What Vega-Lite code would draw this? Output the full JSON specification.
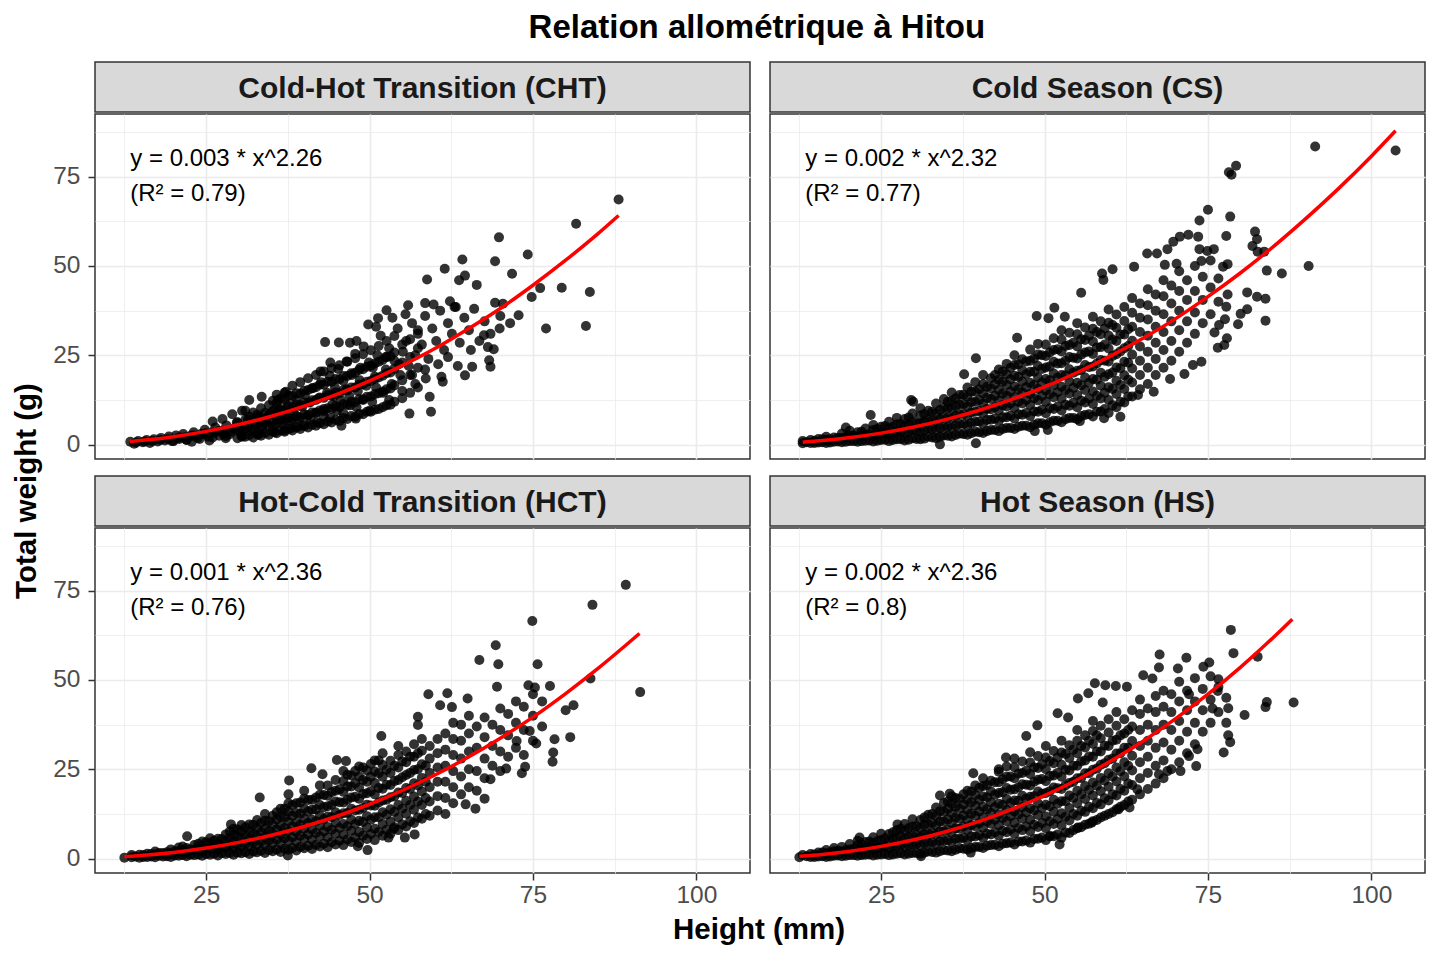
{
  "$schema": "https://vega.github.io/schema/vega-lite/v6.json",
  "background": "white",
  "padding": {"left": 12, "top": 12, "right": 10, "bottom": 5},
  "spacing": 9,
  "config": {
    "font": "Liberation Sans",
    "view": {"stroke": "#333333", "strokeWidth": 1.5},
    "axis": {
      "domain": false,
      "gridColor": "#EBEBEB",
      "labelFont": "Liberation Sans",
      "labelFontSize": 24.5,
      "labelColor": "#4D4D4D",
      "labelOverlap": false,
      "labelFlush": false,
      "tickColor": "#333333",
      "tickWidth": 1.5,
      "tickSize": 7
    },
    "axisX": {"labelPadding": 3},
    "axisY": {"labelPadding": 8}
  },
  "datasets": {
    "cht": [
      {"x":13.4,"y":0.8},{"x":14.0,"y":0.3},{"x":14.6,"y":1.0},{"x":15.3,"y":0.7},{"x":15.9,"y":1.3},{"x":16.4,"y":0.5},{"x":17.0,"y":1.5},{"x":17.6,"y":0.9},
      {"x":18.1,"y":1.9},{"x":18.7,"y":1.2},{"x":19.3,"y":2.3},{"x":19.8,"y":1.0},{"x":20.4,"y":2.6},{"x":20.9,"y":1.6},{"x":21.5,"y":3.0},{"x":22.0,"y":1.4},
      {"x":22.6,"y":2.4},{"x":23.1,"y":3.5},{"x":23.7,"y":1.9},{"x":24.2,"y":3.0},{"x":24.8,"y":4.2},{"x":25.3,"y":2.2},{"x":25.9,"y":3.4},{"x":26.4,"y":4.8},
      {"x":27.0,"y":2.5},{"x":27.5,"y":3.9},{"x":28.1,"y":5.4},{"x":28.6,"y":2.9},{"x":29.2,"y":4.5},{"x":29.7,"y":6.2},{"x":30.3,"y":3.3},{"x":30.8,"y":5.0},
      {"x":31.4,"y":7.0},{"x":31.9,"y":3.9},{"x":32.5,"y":5.7},{"x":33.0,"y":7.8},{"x":33.6,"y":4.4},{"x":34.1,"y":6.4},{"x":34.7,"y":8.6},{"x":35.2,"y":5.0},
      {"x":29.0,"y":8.5},{"x":30.5,"y":9.5},{"x":27.5,"y":7.2},{"x":26.0,"y":6.5},{"x":22.8,"y":0.8},{"x":25.5,"y":1.2},{"x":28.0,"y":1.8},{"x":30.5,"y":2.2},
      {"x":33.0,"y":2.8},{"x":35.5,"y":3.5},{"x":37.0,"y":4.0},
      {"x":20.0,"y":1.0},{"x":22.0,"y":1.3},{"x":24.0,"y":1.6},{"x":26.0,"y":2.0},{"x":28.0,"y":2.4},{"x":21.0,"y":2.0},{"x":23.0,"y":2.6},{"x":25.0,"y":3.2},{"x":27.0,"y":3.8},
      {"x":29.8,"y":1.8},{"x":29.8,"y":4.0},{"x":29.8,"y":6.3},{"x":31.0,"y":2.2},{"x":31.0,"y":4.6},{"x":31.0,"y":7.0},{"x":31.0,"y":9.5},
      {"x":32.2,"y":2.0},{"x":32.2,"y":4.3},{"x":32.2,"y":6.7},{"x":32.2,"y":9.0},{"x":33.4,"y":2.5},{"x":33.4,"y":5.0},{"x":33.4,"y":7.6},{"x":33.4,"y":10.2},
      {"x":34.6,"y":2.8},{"x":34.6,"y":5.5},{"x":34.6,"y":8.2},{"x":34.6,"y":11.0},{"x":35.8,"y":3.2},{"x":35.8,"y":6.0},{"x":35.8,"y":8.9},{"x":35.8,"y":11.8},{"x":35.8,"y":14.0},
      {"x":37.0,"y":3.6},{"x":37.0,"y":6.6},{"x":37.0,"y":9.6},{"x":37.0,"y":12.6},{"x":38.2,"y":4.0},{"x":38.2,"y":7.2},{"x":38.2,"y":10.4},{"x":38.2,"y":13.6},{"x":38.2,"y":16.5},
      {"x":39.4,"y":4.4},{"x":39.4,"y":7.7},{"x":39.4,"y":11.0},{"x":39.4,"y":14.3},{"x":39.4,"y":17.5},{"x":40.6,"y":4.8},{"x":40.6,"y":8.3},{"x":40.6,"y":11.8},{"x":40.6,"y":15.3},{"x":40.6,"y":18.6},
      {"x":41.8,"y":5.3},{"x":41.8,"y":8.9},{"x":41.8,"y":12.5},{"x":41.8,"y":16.1},{"x":41.8,"y":19.5},{"x":43.0,"y":5.7},{"x":43.0,"y":9.4},{"x":43.0,"y":13.1},{"x":43.0,"y":16.8},{"x":43.0,"y":20.5},
      {"x":44.2,"y":6.2},{"x":44.2,"y":10.0},{"x":44.2,"y":13.8},{"x":44.2,"y":17.6},{"x":44.2,"y":21.4},{"x":45.4,"y":6.6},{"x":45.4,"y":10.5},{"x":45.4,"y":14.4},{"x":45.4,"y":18.3},{"x":45.4,"y":22.2},
      {"x":46.6,"y":7.2},{"x":46.6,"y":11.2},{"x":46.6,"y":15.2},{"x":46.6,"y":19.2},{"x":46.6,"y":23.2},{"x":47.8,"y":7.8},{"x":47.8,"y":11.9},{"x":47.8,"y":16.0},{"x":47.8,"y":20.1},{"x":47.8,"y":24.2},
      {"x":49.0,"y":8.5},{"x":49.0,"y":12.7},{"x":49.0,"y":16.9},{"x":49.0,"y":21.1},{"x":49.0,"y":25.3},{"x":50.2,"y":9.2},{"x":50.2,"y":13.5},{"x":50.2,"y":17.8},{"x":50.2,"y":22.1},{"x":50.2,"y":26.4},
      {"x":51.4,"y":10.0},{"x":51.4,"y":14.4},{"x":51.4,"y":18.8},{"x":51.4,"y":23.2},{"x":51.4,"y":27.6},{"x":52.6,"y":11.0},{"x":52.6,"y":15.5},{"x":52.6,"y":20.0},{"x":52.6,"y":24.5},{"x":52.6,"y":29.0},
      {"x":53.8,"y":12.0},{"x":53.8,"y":16.6},{"x":53.8,"y":21.2},{"x":53.8,"y":25.8},{"x":53.8,"y":30.4},{"x":55.0,"y":13.0},{"x":55.0,"y":18.0},{"x":55.0,"y":23.0},{"x":55.0,"y":28.0},
      {"x":56.2,"y":14.5},{"x":56.2,"y":19.5},{"x":56.2,"y":24.5},{"x":56.2,"y":29.5},{"x":57.4,"y":16.0},{"x":57.4,"y":21.5},{"x":57.4,"y":27.0},{"x":57.4,"y":32.0},
      {"x":35.8,"y":7.2},{"x":36.2,"y":9.8},{"x":36.6,"y":5.9},{"x":37.1,"y":8.3},{"x":37.5,"y":11.2},{"x":37.9,"y":6.6},{"x":38.4,"y":9.4},{"x":38.8,"y":12.5},
      {"x":39.2,"y":7.3},{"x":39.7,"y":10.6},{"x":40.1,"y":14.0},{"x":40.5,"y":8.1},{"x":40.9,"y":11.8},{"x":41.3,"y":15.8},{"x":41.8,"y":9.0},{"x":42.2,"y":13.0},
      {"x":42.6,"y":17.5},{"x":43.0,"y":10.0},{"x":43.5,"y":14.5},{"x":43.9,"y":19.3},{"x":44.3,"y":11.2},{"x":44.7,"y":16.0},{"x":45.2,"y":21.2},{"x":45.6,"y":12.4},
      {"x":46.0,"y":17.8},{"x":46.5,"y":23.3},{"x":46.9,"y":13.6},{"x":47.3,"y":19.5},{"x":47.8,"y":25.4},{"x":48.2,"y":15.0},{"x":48.6,"y":21.5},{"x":49.1,"y":27.5},
      {"x":49.5,"y":16.5},{"x":49.9,"y":23.0},{"x":50.4,"y":12.0},{"x":50.8,"y":19.0},{"x":51.2,"y":25.0},{"x":51.7,"y":30.5},{"x":52.1,"y":14.5},{"x":52.5,"y":21.0},
      {"x":53.0,"y":27.0},{"x":53.4,"y":17.0},{"x":53.8,"y":23.5},{"x":54.3,"y":32.5},{"x":54.7,"y":19.5},{"x":55.1,"y":26.0},{"x":55.6,"y":29.0},{"x":56.0,"y":22.0},
      {"x":56.5,"y":34.0},{"x":57.0,"y":25.0},{"x":57.4,"y":31.0},{"x":58.0,"y":28.0},{"x":58.5,"y":36.0},{"x":59.0,"y":24.0},{"x":59.6,"y":32.5},{"x":60.2,"y":29.0},
      {"x":60.8,"y":37.5},{"x":61.4,"y":26.5},{"x":62.0,"y":34.0},{"x":62.6,"y":31.0},{"x":63.2,"y":38.5},{"x":63.8,"y":28.5},{"x":64.5,"y":35.5},{"x":65.2,"y":32.0},
      {"x":66.0,"y":38.0},{"x":66.8,"y":29.0},{"x":67.6,"y":34.5},{"x":68.5,"y":31.0},{"x":70.0,"y":36.0},{"x":71.5,"y":34.0},
      {"x":38.0,"y":4.6},{"x":40.0,"y":5.5},{"x":42.0,"y":6.3},{"x":44.0,"y":7.5},{"x":46.0,"y":8.8},{"x":48.0,"y":10.5},{"x":50.0,"y":9.5},{"x":45.0,"y":9.5},
      {"x":47.0,"y":11.0},{"x":49.0,"y":12.5},{"x":51.0,"y":16.0},{"x":53.0,"y":12.5},{"x":55.0,"y":15.0},{"x":57.0,"y":17.0},{"x":41.0,"y":7.0},{"x":43.0,"y":8.0},
      {"x":39.0,"y":5.0},{"x":44.5,"y":13.5},{"x":46.5,"y":15.5},{"x":48.5,"y":18.0},{"x":50.5,"y":21.5},{"x":52.5,"y":24.5},{"x":54.5,"y":22.5},{"x":56.5,"y":19.5},
      {"x":58.5,"y":21.0},{"x":60.5,"y":22.5},{"x":62.0,"y":24.5},{"x":61.0,"y":19.0},{"x":63.5,"y":22.0},{"x":65.5,"y":26.5},{"x":42.5,"y":20.5},{"x":44.0,"y":23.0},
      {"x":47.0,"y":28.5},{"x":48.0,"y":29.0},{"x":51.0,"y":33.0},{"x":53.5,"y":35.5},{"x":55.5,"y":36.5},{"x":37.0,"y":14.5},{"x":36.0,"y":12.5},
      {"x":88.1,"y":68.6},{"x":81.6,"y":61.8},{"x":69.8,"y":58.0},{"x":64.2,"y":51.8},{"x":69.2,"y":51.3},{"x":74.2,"y":53.2},{"x":61.5,"y":49.2},{"x":63.7,"y":46.0},
      {"x":64.6,"y":47.3},{"x":66.4,"y":44.7},{"x":71.8,"y":47.8},{"x":58.8,"y":46.2},{"x":76.1,"y":43.8},{"x":79.4,"y":43.9},{"x":83.7,"y":42.7},{"x":74.8,"y":41.3},
      {"x":72.8,"y":36.2},{"x":77.0,"y":32.5},{"x":83.1,"y":33.2},{"x":69.2,"y":39.7},{"x":70.4,"y":39.4},{"x":69.9,"y":32.5},{"x":55.9,"y":39.0},{"x":58.5,"y":39.6},
      {"x":59.8,"y":39.2},{"x":62.3,"y":40.1},{"x":63.0,"y":38.5},{"x":52.6,"y":37.6},{"x":51.3,"y":35.4},{"x":49.8,"y":33.6},{"x":43.2,"y":28.7},{"x":45.3,"y":28.6},
      {"x":67.5,"y":30.6},{"x":68.1,"y":27.3},{"x":69.0,"y":26.7},{"x":68.3,"y":23.6},{"x":68.5,"y":21.8},{"x":64.6,"y":19.4},{"x":65.7,"y":21.8},{"x":61.2,"y":17.6},
      {"x":59.2,"y":13.4},{"x":59.4,"y":9.2},{"x":56.1,"y":8.7},{"x":58.6,"y":18.5},{"x":47.9,"y":7.3},{"x":45.7,"y":5.3},{"x":31.6,"y":12.5},{"x":33.5,"y":13.4},
      {"x":37.2,"y":14.8},{"x":35.7,"y":10.1},
      {"x":30.4,"y":2.5},{"x":30.4,"y":4.9},{"x":31.6,"y":2.7},{"x":31.6,"y":5.3},{"x":31.6,"y":7.9},{"x":32.8,"y":3.0},{"x":32.8,"y":5.7},{"x":32.8,"y":8.4},
      {"x":34.0,"y":3.3},{"x":34.0,"y":6.1},{"x":34.0,"y":8.9},{"x":35.2,"y":3.6},{"x":35.2,"y":6.5},{"x":35.2,"y":9.4},{"x":35.2,"y":12.3},
      {"x":36.4,"y":4.0},{"x":36.4,"y":7.0},{"x":36.4,"y":10.0},{"x":36.4,"y":13.0},{"x":37.6,"y":4.4},{"x":37.6,"y":7.5},{"x":37.6,"y":10.6},{"x":37.6,"y":13.7},
      {"x":38.8,"y":4.8},{"x":38.8,"y":8.0},{"x":38.8,"y":11.2},{"x":38.8,"y":14.4},{"x":40.0,"y":5.2},{"x":40.0,"y":8.5},{"x":40.0,"y":11.8},{"x":40.0,"y":15.1},
      {"x":41.2,"y":5.6},{"x":41.2,"y":9.0},{"x":41.2,"y":12.4},{"x":41.2,"y":15.8},{"x":42.4,"y":6.0},{"x":42.4,"y":9.6},{"x":42.4,"y":13.2},{"x":42.4,"y":16.8},
      {"x":43.6,"y":6.5},{"x":43.6,"y":10.2},{"x":43.6,"y":13.9},{"x":43.6,"y":17.6},{"x":44.8,"y":7.0},{"x":44.8,"y":10.8},{"x":44.8,"y":14.6},{"x":44.8,"y":18.4},
      {"x":46.0,"y":7.5},{"x":46.0,"y":11.4},{"x":46.0,"y":15.3},{"x":46.0,"y":19.2},{"x":47.2,"y":8.0},{"x":47.2,"y":12.0},{"x":47.2,"y":16.0},{"x":47.2,"y":20.0},
      {"x":48.4,"y":8.6},{"x":48.4,"y":12.7},{"x":48.4,"y":16.8},{"x":48.4,"y":20.9},{"x":49.6,"y":9.2},{"x":49.6,"y":13.4},{"x":49.6,"y":17.6},{"x":49.6,"y":21.8},
      {"x":50.8,"y":9.8},{"x":50.8,"y":14.1},{"x":50.8,"y":18.4},{"x":50.8,"y":22.7},{"x":52.0,"y":10.5},{"x":52.0,"y":14.9},{"x":52.0,"y":19.3},{"x":52.0,"y":23.7},
      {"x":53.2,"y":11.2},{"x":53.2,"y":15.7},{"x":53.2,"y":20.2},{"x":53.2,"y":24.7},
      {"x":14.3,"y":0.6},{"x":15.6,"y":0.9},{"x":16.8,"y":1.0},{"x":18.0,"y":1.3},{"x":19.2,"y":1.5},{"x":20.6,"y":1.8},{"x":21.8,"y":2.1},{"x":23.4,"y":2.5},
      {"x":24.6,"y":2.9},{"x":26.2,"y":3.3},{"x":27.6,"y":3.0},{"x":28.8,"y":3.6}
    ],
    "cs": [
      {"x":13.0,"y":0.4},{"x":13.0,"y":1.0},{"x":14.2,"y":0.5},{"x":14.2,"y":1.3},{"x":15.4,"y":0.6},{"x":15.4,"y":1.6},{"x":16.6,"y":0.5},{"x":16.6,"y":1.4},{"x":16.6,"y":2.2},
      {"x":17.8,"y":0.8},{"x":17.8,"y":2.0},{"x":19.0,"y":0.7},{"x":19.0,"y":1.9},{"x":19.0,"y":3.1},{"x":20.2,"y":1.0},{"x":20.2,"y":2.6},{"x":20.2,"y":3.9},
      {"x":21.4,"y":0.8},{"x":21.4,"y":2.2},{"x":21.4,"y":3.5},{"x":22.6,"y":1.1},{"x":22.6,"y":2.8},{"x":22.6,"y":4.5},{"x":23.8,"y":0.9},{"x":23.8,"y":2.5},{"x":23.8,"y":4.1},{"x":23.8,"y":5.5},
      {"x":25.0,"y":1.3},{"x":25.0,"y":3.2},{"x":25.0,"y":5.0},{"x":26.2,"y":1.0},{"x":26.2,"y":2.8},{"x":26.2,"y":4.6},{"x":26.2,"y":6.4},
      {"x":27.4,"y":1.5},{"x":27.4,"y":3.6},{"x":27.4,"y":5.7},{"x":27.4,"y":7.5},{"x":28.6,"y":1.2},{"x":28.6,"y":3.2},{"x":28.6,"y":5.2},{"x":28.6,"y":7.2},
      {"x":29.8,"y":1.8},{"x":29.8,"y":4.1},{"x":29.8,"y":6.4},{"x":29.8,"y":8.7},
      {"x":31.0,"y":1.5},{"x":31.0,"y":3.6},{"x":31.0,"y":5.9},{"x":31.0,"y":8.1},{"x":31.0,"y":10.2},
      {"x":32.2,"y":2.2},{"x":32.2,"y":4.6},{"x":32.2,"y":7.1},{"x":32.2,"y":9.5},
      {"x":33.4,"y":1.8},{"x":33.4,"y":4.1},{"x":33.4,"y":6.5},{"x":33.4,"y":8.9},{"x":33.4,"y":11.5},
      {"x":34.6,"y":2.6},{"x":34.6,"y":5.2},{"x":34.6,"y":7.8},{"x":34.6,"y":10.4},{"x":34.6,"y":12.8},
      {"x":35.8,"y":2.3},{"x":35.8,"y":4.7},{"x":35.8,"y":7.3},{"x":35.8,"y":9.9},{"x":35.8,"y":12.3},{"x":35.8,"y":14.6},
      {"x":37.0,"y":3.1},{"x":37.0,"y":5.8},{"x":37.0,"y":8.5},{"x":37.0,"y":11.2},{"x":37.0,"y":13.9},
      {"x":38.2,"y":2.8},{"x":38.2,"y":5.3},{"x":38.2,"y":8.0},{"x":38.2,"y":10.7},{"x":38.2,"y":13.4},{"x":38.2,"y":16.0},
      {"x":39.4,"y":3.6},{"x":39.4,"y":6.4},{"x":39.4,"y":9.2},{"x":39.4,"y":12.0},{"x":39.4,"y":14.8},{"x":39.4,"y":17.5},
      {"x":40.6,"y":3.3},{"x":40.6,"y":5.9},{"x":40.6,"y":8.7},{"x":40.6,"y":11.5},{"x":40.6,"y":14.3},{"x":40.6,"y":17.0},{"x":40.6,"y":19.5},
      {"x":41.8,"y":4.1},{"x":41.8,"y":7.0},{"x":41.8,"y":9.9},{"x":41.8,"y":12.8},{"x":41.8,"y":15.7},{"x":41.8,"y":18.6},
      {"x":43.0,"y":3.8},{"x":43.0,"y":6.6},{"x":43.0,"y":9.5},{"x":43.0,"y":12.4},{"x":43.0,"y":15.3},{"x":43.0,"y":18.2},{"x":43.0,"y":21.0},
      {"x":44.2,"y":4.7},{"x":44.2,"y":7.7},{"x":44.2,"y":10.7},{"x":44.2,"y":13.7},{"x":44.2,"y":16.7},{"x":44.2,"y":19.7},{"x":44.2,"y":22.6},
      {"x":45.4,"y":4.4},{"x":45.4,"y":7.3},{"x":45.4,"y":10.3},{"x":45.4,"y":13.3},{"x":45.4,"y":16.3},{"x":45.4,"y":19.3},{"x":45.4,"y":22.3},{"x":45.4,"y":25.0},
      {"x":46.6,"y":5.3},{"x":46.6,"y":8.4},{"x":46.6,"y":11.5},{"x":46.6,"y":14.6},{"x":46.6,"y":17.7},{"x":46.6,"y":20.8},{"x":46.6,"y":23.9},
      {"x":47.8,"y":4.9},{"x":47.8,"y":8.0},{"x":47.8,"y":11.1},{"x":47.8,"y":14.2},{"x":47.8,"y":17.3},{"x":47.8,"y":20.4},{"x":47.8,"y":23.5},{"x":47.8,"y":26.6},
      {"x":49.0,"y":6.0},{"x":49.0,"y":9.2},{"x":49.0,"y":12.4},{"x":49.0,"y":15.6},{"x":49.0,"y":18.8},{"x":49.0,"y":22.0},{"x":49.0,"y":25.2},{"x":49.0,"y":28.2},
      {"x":50.2,"y":5.6},{"x":50.2,"y":8.8},{"x":50.2,"y":12.0},{"x":50.2,"y":15.2},{"x":50.2,"y":18.4},{"x":50.2,"y":21.6},{"x":50.2,"y":24.8},{"x":50.2,"y":28.0},
      {"x":51.4,"y":6.7},{"x":51.4,"y":10.0},{"x":51.4,"y":13.3},{"x":51.4,"y":16.6},{"x":51.4,"y":19.9},{"x":51.4,"y":23.2},{"x":51.4,"y":26.5},{"x":51.4,"y":29.8},
      {"x":52.6,"y":6.3},{"x":52.6,"y":9.6},{"x":52.6,"y":12.9},{"x":52.6,"y":16.2},{"x":52.6,"y":19.5},{"x":52.6,"y":22.8},{"x":52.6,"y":26.1},{"x":52.6,"y":29.4},{"x":52.6,"y":32.0},
      {"x":53.8,"y":7.5},{"x":53.8,"y":10.9},{"x":53.8,"y":14.3},{"x":53.8,"y":17.7},{"x":53.8,"y":21.1},{"x":53.8,"y":24.5},{"x":53.8,"y":27.9},{"x":53.8,"y":31.3},
      {"x":55.0,"y":7.1},{"x":55.0,"y":10.5},{"x":55.0,"y":13.9},{"x":55.0,"y":17.3},{"x":55.0,"y":20.7},{"x":55.0,"y":24.1},{"x":55.0,"y":27.5},{"x":55.0,"y":30.9},{"x":55.0,"y":34.0},
      {"x":56.2,"y":8.3},{"x":56.2,"y":11.8},{"x":56.2,"y":15.3},{"x":56.2,"y":18.8},{"x":56.2,"y":22.3},{"x":56.2,"y":25.8},{"x":56.2,"y":29.3},{"x":56.2,"y":32.8},
      {"x":57.4,"y":7.9},{"x":57.4,"y":11.4},{"x":57.4,"y":14.9},{"x":57.4,"y":18.4},{"x":57.4,"y":21.9},{"x":57.4,"y":25.4},{"x":57.4,"y":28.9},{"x":57.4,"y":32.4},{"x":57.4,"y":35.8},
      {"x":58.6,"y":9.3},{"x":58.6,"y":12.9},{"x":58.6,"y":16.5},{"x":58.6,"y":20.1},{"x":58.6,"y":23.7},{"x":58.6,"y":27.3},{"x":58.6,"y":30.9},{"x":58.6,"y":34.5},
      {"x":59.8,"y":8.9},{"x":59.8,"y":12.5},{"x":59.8,"y":16.1},{"x":59.8,"y":19.7},{"x":59.8,"y":23.3},{"x":59.8,"y":26.9},{"x":59.8,"y":30.5},{"x":59.8,"y":34.1},{"x":59.8,"y":37.8},
      {"x":61.0,"y":10.5},{"x":61.0,"y":14.2},{"x":61.0,"y":17.9},{"x":61.0,"y":21.6},{"x":61.0,"y":25.3},{"x":61.0,"y":29.0},{"x":61.0,"y":32.7},{"x":61.0,"y":36.4},
      {"x":62.2,"y":11.8},{"x":62.2,"y":15.6},{"x":62.2,"y":19.4},{"x":62.2,"y":23.2},{"x":62.2,"y":27.0},{"x":62.2,"y":30.8},{"x":62.2,"y":34.6},{"x":62.2,"y":38.5},
      {"x":63.4,"y":13.5},{"x":63.4,"y":17.4},{"x":63.4,"y":21.3},{"x":63.4,"y":25.2},{"x":63.4,"y":29.1},{"x":63.4,"y":33.0},{"x":63.4,"y":36.9},{"x":63.4,"y":41.0},
      {"x":64.6,"y":15.5},{"x":64.6,"y":19.5},{"x":64.6,"y":23.5},{"x":64.6,"y":27.5},{"x":64.6,"y":31.5},{"x":64.6,"y":35.5},{"x":64.6,"y":39.5},
      {"x":65.8,"y":17.0},{"x":65.8,"y":21.5},{"x":65.8,"y":26.0},{"x":65.8,"y":30.5},{"x":65.8,"y":35.0},{"x":65.8,"y":39.0},{"x":65.8,"y":43.5},
      {"x":67.0,"y":19.5},{"x":67.0,"y":24.0},{"x":67.0,"y":28.5},{"x":67.0,"y":33.0},{"x":67.0,"y":37.5},{"x":67.0,"y":42.0},
      {"x":68.2,"y":21.5},{"x":68.2,"y":26.5},{"x":68.2,"y":31.5},{"x":68.2,"y":36.5},{"x":68.2,"y":41.5},{"x":68.2,"y":46.0},
      {"x":69.4,"y":23.5},{"x":69.4,"y":29.0},{"x":69.4,"y":34.5},{"x":69.4,"y":39.5},{"x":69.4,"y":44.5},
      {"x":70.6,"y":26.0},{"x":70.6,"y":32.0},{"x":70.6,"y":37.5},{"x":70.6,"y":43.0},{"x":70.6,"y":48.5},
      {"x":71.8,"y":28.5},{"x":71.8,"y":34.5},{"x":71.8,"y":40.5},{"x":71.8,"y":46.0},
      {"x":73.0,"y":31.0},{"x":73.0,"y":37.0},{"x":73.0,"y":43.0},{"x":73.0,"y":50.0},
      {"x":74.2,"y":34.0},{"x":74.2,"y":40.5},{"x":74.2,"y":47.0},{"x":75.4,"y":36.5},{"x":75.4,"y":44.0},{"x":75.4,"y":51.5},
      {"x":76.6,"y":40.0},{"x":76.6,"y":46.5},{"x":78.0,"y":42.0},{"x":78.0,"y":50.5},
      {"x":91.4,"y":83.4},{"x":103.7,"y":82.3},{"x":79.3,"y":78.0},{"x":78.2,"y":76.2},{"x":78.6,"y":75.5},{"x":75.0,"y":65.7},{"x":78.4,"y":63.8},{"x":73.7,"y":62.7},
      {"x":82.2,"y":59.6},{"x":82.5,"y":57.5},{"x":81.8,"y":55.6},{"x":82.6,"y":54.0},{"x":83.6,"y":54.0},{"x":77.8,"y":58.4},{"x":72.0,"y":58.7},{"x":70.7,"y":58.2},
      {"x":69.7,"y":56.8},{"x":73.5,"y":58.2},{"x":75.9,"y":54.7},{"x":74.9,"y":54.2},{"x":73.7,"y":54.7},{"x":68.8,"y":54.7},{"x":67.2,"y":53.5},{"x":65.7,"y":53.5},
      {"x":74.0,"y":51.4},{"x":90.4,"y":50.0},{"x":84.0,"y":48.7},{"x":86.3,"y":47.9},{"x":77.3,"y":49.8},{"x":63.7,"y":49.8},{"x":60.4,"y":49.1},{"x":58.8,"y":47.9},
      {"x":59.0,"y":46.1},{"x":68.4,"y":50.3},{"x":70.2,"y":50.6},{"x":81.0,"y":42.6},{"x":82.5,"y":41.4},{"x":83.8,"y":40.8},{"x":81.0,"y":37.9},{"x":80.0,"y":36.6},
      {"x":83.8,"y":34.7},{"x":79.6,"y":33.7},{"x":77.8,"y":38.6},{"x":77.6,"y":35.1},{"x":76.7,"y":33.5},{"x":76.0,"y":31.4},{"x":77.9,"y":29.8},{"x":77.5,"y":27.9},
      {"x":76.5,"y":27.1},{"x":74.0,"y":23.2},{"x":72.7,"y":22.3},{"x":71.4,"y":19.8},{"x":69.2,"y":18.4},{"x":66.7,"y":14.8},{"x":64.3,"y":13.9},{"x":61.6,"y":7.8},
      {"x":59.1,"y":7.4},{"x":55.4,"y":6.6},{"x":55.6,"y":42.5},{"x":51.5,"y":38.3},{"x":50.6,"y":35.4},{"x":48.8,"y":36.0},{"x":53.1,"y":35.8},{"x":45.8,"y":29.9},
      {"x":39.5,"y":24.2},{"x":37.7,"y":19.7},{"x":34.0,"y":0.1},{"x":39.5,"y":0.4},{"x":48.5,"y":3.8},{"x":50.5,"y":4.1},{"x":29.9,"y":12.0},{"x":29.6,"y":12.5},
      {"x":23.4,"y":8.3},{"x":19.6,"y":4.8},
      {"x":13.6,"y":0.7},{"x":14.8,"y":0.5},{"x":14.8,"y":1.1},{"x":16.0,"y":0.7},{"x":16.0,"y":1.5},{"x":17.2,"y":0.6},{"x":17.2,"y":1.5},{"x":18.4,"y":0.9},{"x":18.4,"y":1.9},
      {"x":19.6,"y":0.8},{"x":19.6,"y":2.2},{"x":20.8,"y":1.0},{"x":20.8,"y":2.5},{"x":22.0,"y":1.0},{"x":22.0,"y":2.4},{"x":22.0,"y":3.6},{"x":23.2,"y":1.2},{"x":23.2,"y":2.9},
      {"x":24.4,"y":1.1},{"x":24.4,"y":2.7},{"x":24.4,"y":4.4},{"x":25.6,"y":1.4},{"x":25.6,"y":3.3},{"x":25.6,"y":5.2},{"x":26.8,"y":1.3},{"x":26.8,"y":3.2},{"x":26.8,"y":5.0},
      {"x":28.0,"y":1.5},{"x":28.0,"y":3.6},{"x":28.0,"y":5.8},{"x":29.2,"y":1.4},{"x":29.2,"y":3.5},{"x":29.2,"y":5.6},{"x":29.2,"y":7.6},
      {"x":30.4,"y":1.6},{"x":30.4,"y":3.8},{"x":30.4,"y":6.0},{"x":31.6,"y":1.7},{"x":31.6,"y":4.0},{"x":31.6,"y":6.4},{"x":31.6,"y":8.6},
      {"x":32.8,"y":2.0},{"x":32.8,"y":4.4},{"x":32.8,"y":6.8},{"x":32.8,"y":9.2},{"x":34.0,"y":2.2},{"x":34.0,"y":4.7},{"x":34.0,"y":7.2},{"x":34.0,"y":9.7},
      {"x":35.2,"y":2.5},{"x":35.2,"y":5.0},{"x":35.2,"y":7.6},{"x":35.2,"y":10.2},{"x":35.2,"y":12.0},{"x":36.4,"y":2.7},{"x":36.4,"y":5.4},{"x":36.4,"y":8.1},{"x":36.4,"y":10.8},{"x":36.4,"y":13.0},
      {"x":37.6,"y":3.0},{"x":37.6,"y":5.8},{"x":37.6,"y":8.6},{"x":37.6,"y":11.4},{"x":37.6,"y":14.0},{"x":38.8,"y":3.2},{"x":38.8,"y":6.1},{"x":38.8,"y":9.0},{"x":38.8,"y":11.9},{"x":38.8,"y":14.8},
      {"x":40.0,"y":3.5},{"x":40.0,"y":6.5},{"x":40.0,"y":9.5},{"x":40.0,"y":12.5},{"x":40.0,"y":15.5},{"x":41.2,"y":3.8},{"x":41.2,"y":6.9},{"x":41.2,"y":10.0},{"x":41.2,"y":13.1},{"x":41.2,"y":16.2},
      {"x":42.4,"y":4.1},{"x":42.4,"y":7.3},{"x":42.4,"y":10.5},{"x":42.4,"y":13.7},{"x":42.4,"y":16.9},{"x":42.4,"y":19.5},
      {"x":43.6,"y":4.4},{"x":43.6,"y":7.7},{"x":43.6,"y":11.0},{"x":43.6,"y":14.3},{"x":43.6,"y":17.6},{"x":43.6,"y":20.5},
      {"x":44.8,"y":4.7},{"x":44.8,"y":8.1},{"x":44.8,"y":11.5},{"x":44.8,"y":14.9},{"x":44.8,"y":18.3},{"x":44.8,"y":21.5},
      {"x":46.0,"y":5.0},{"x":46.0,"y":8.5},{"x":46.0,"y":12.0},{"x":46.0,"y":15.5},{"x":46.0,"y":19.0},{"x":46.0,"y":22.5},
      {"x":47.2,"y":5.3},{"x":47.2,"y":8.9},{"x":47.2,"y":12.5},{"x":47.2,"y":16.1},{"x":47.2,"y":19.7},{"x":47.2,"y":23.3},
      {"x":48.4,"y":5.6},{"x":48.4,"y":9.3},{"x":48.4,"y":13.0},{"x":48.4,"y":16.7},{"x":48.4,"y":20.4},{"x":48.4,"y":24.1},
      {"x":49.6,"y":6.0},{"x":49.6,"y":9.8},{"x":49.6,"y":13.6},{"x":49.6,"y":17.4},{"x":49.6,"y":21.2},{"x":49.6,"y":25.0},
      {"x":50.8,"y":6.3},{"x":50.8,"y":10.2},{"x":50.8,"y":14.1},{"x":50.8,"y":18.0},{"x":50.8,"y":21.9},{"x":50.8,"y":25.8},
      {"x":52.0,"y":6.7},{"x":52.0,"y":10.7},{"x":52.0,"y":14.7},{"x":52.0,"y":18.7},{"x":52.0,"y":22.7},{"x":52.0,"y":26.7},
      {"x":53.2,"y":7.1},{"x":53.2,"y":11.2},{"x":53.2,"y":15.3},{"x":53.2,"y":19.4},{"x":53.2,"y":23.5},{"x":53.2,"y":27.6},
      {"x":54.4,"y":7.5},{"x":54.4,"y":11.7},{"x":54.4,"y":15.9},{"x":54.4,"y":20.1},{"x":54.4,"y":24.3},{"x":54.4,"y":28.5},
      {"x":55.6,"y":8.0},{"x":55.6,"y":12.3},{"x":55.6,"y":16.6},{"x":55.6,"y":20.9},{"x":55.6,"y":25.2},{"x":55.6,"y":29.5},
      {"x":56.8,"y":8.5},{"x":56.8,"y":12.9},{"x":56.8,"y":17.3},{"x":56.8,"y":21.7},{"x":56.8,"y":26.1},{"x":56.8,"y":30.5},
      {"x":58.0,"y":9.2},{"x":58.0,"y":13.7},{"x":58.0,"y":18.2},{"x":58.0,"y":22.7},{"x":58.0,"y":27.2},{"x":58.0,"y":31.5},
      {"x":59.2,"y":10.0},{"x":59.2,"y":14.5},{"x":59.2,"y":19.0},{"x":59.2,"y":23.5},{"x":59.2,"y":28.0},{"x":59.2,"y":32.5},
      {"x":60.4,"y":11.0},{"x":60.4,"y":15.6},{"x":60.4,"y":20.2},{"x":60.4,"y":24.8},{"x":60.4,"y":29.4},{"x":60.4,"y":33.5},
      {"x":61.6,"y":12.0},{"x":61.6,"y":16.7},{"x":61.6,"y":21.4},{"x":61.6,"y":26.1},{"x":61.6,"y":30.8},
      {"x":62.8,"y":13.5},{"x":62.8,"y":18.2},{"x":62.8,"y":22.9},{"x":62.8,"y":27.6},{"x":62.8,"y":32.3}
    ],
    "hct": [
      {"x":12.5,"y":0.3},{"x":13.6,"y":0.4},{"x":13.6,"y":1.0},{"x":14.8,"y":0.3},{"x":14.8,"y":1.1},{"x":16.0,"y":0.5},{"x":16.0,"y":1.4},
      {"x":17.2,"y":0.4},{"x":17.2,"y":1.2},{"x":17.2,"y":2.0},{"x":18.4,"y":0.6},{"x":18.4,"y":1.6},{"x":19.6,"y":0.5},{"x":19.6,"y":1.5},{"x":19.6,"y":2.6},
      {"x":20.8,"y":0.8},{"x":20.8,"y":2.0},{"x":20.8,"y":3.1},{"x":22.0,"y":0.7},{"x":22.0,"y":1.8},{"x":22.0,"y":3.0},{"x":23.2,"y":1.0},{"x":23.2,"y":2.4},{"x":23.2,"y":3.8},
      {"x":24.4,"y":0.8},{"x":24.4,"y":2.2},{"x":24.4,"y":3.6},{"x":24.4,"y":4.8},{"x":25.6,"y":1.1},{"x":25.6,"y":2.7},{"x":25.6,"y":4.3},{"x":25.6,"y":5.7},
      {"x":26.8,"y":0.9},{"x":26.8,"y":2.5},{"x":26.8,"y":4.1},{"x":26.8,"y":5.6},{"x":28.0,"y":1.3},{"x":28.0,"y":3.1},{"x":28.0,"y":4.9},{"x":28.0,"y":6.8},
      {"x":29.2,"y":1.1},{"x":29.2,"y":2.9},{"x":29.2,"y":4.8},{"x":29.2,"y":6.7},{"x":29.2,"y":8.4},
      {"x":30.4,"y":1.5},{"x":30.4,"y":3.5},{"x":30.4,"y":5.6},{"x":30.4,"y":7.7},{"x":30.4,"y":9.4},
      {"x":31.6,"y":1.3},{"x":31.6,"y":3.3},{"x":31.6,"y":5.4},{"x":31.6,"y":7.5},{"x":31.6,"y":9.6},
      {"x":32.8,"y":1.8},{"x":32.8,"y":4.0},{"x":32.8,"y":6.3},{"x":32.8,"y":8.6},{"x":32.8,"y":10.8},
      {"x":34.0,"y":1.6},{"x":34.0,"y":3.7},{"x":34.0,"y":6.0},{"x":34.0,"y":8.3},{"x":34.0,"y":10.6},{"x":34.0,"y":12.5},
      {"x":35.2,"y":2.1},{"x":35.2,"y":4.5},{"x":35.2,"y":7.0},{"x":35.2,"y":9.5},{"x":35.2,"y":12.0},
      {"x":36.4,"y":1.9},{"x":36.4,"y":4.2},{"x":36.4,"y":6.7},{"x":36.4,"y":9.2},{"x":36.4,"y":11.7},{"x":36.4,"y":14.0},
      {"x":37.6,"y":2.5},{"x":37.6,"y":5.0},{"x":37.6,"y":7.7},{"x":37.6,"y":10.4},{"x":37.6,"y":13.1},{"x":37.6,"y":15.5},
      {"x":38.8,"y":2.3},{"x":38.8,"y":4.7},{"x":38.8,"y":7.4},{"x":38.8,"y":10.1},{"x":38.8,"y":12.8},{"x":38.8,"y":15.5},
      {"x":40.0,"y":2.9},{"x":40.0,"y":5.6},{"x":40.0,"y":8.4},{"x":40.0,"y":11.2},{"x":40.0,"y":14.0},{"x":40.0,"y":16.8},{"x":40.0,"y":19.0},
      {"x":41.2,"y":2.7},{"x":41.2,"y":5.3},{"x":41.2,"y":8.1},{"x":41.2,"y":10.9},{"x":41.2,"y":13.7},{"x":41.2,"y":16.5},
      {"x":42.4,"y":3.4},{"x":42.4,"y":6.3},{"x":42.4,"y":9.2},{"x":42.4,"y":12.1},{"x":42.4,"y":15.0},{"x":42.4,"y":17.9},{"x":42.4,"y":20.5},
      {"x":43.6,"y":3.2},{"x":43.6,"y":6.0},{"x":43.6,"y":8.9},{"x":43.6,"y":11.8},{"x":43.6,"y":14.7},{"x":43.6,"y":17.6},{"x":43.6,"y":20.5},
      {"x":44.8,"y":4.0},{"x":44.8,"y":7.0},{"x":44.8,"y":10.0},{"x":44.8,"y":13.0},{"x":44.8,"y":16.0},{"x":44.8,"y":19.0},{"x":44.8,"y":22.0},
      {"x":46.0,"y":3.8},{"x":46.0,"y":6.7},{"x":46.0,"y":9.7},{"x":46.0,"y":12.7},{"x":46.0,"y":15.7},{"x":46.0,"y":18.7},{"x":46.0,"y":21.7},{"x":46.0,"y":24.5},
      {"x":47.2,"y":4.7},{"x":47.2,"y":7.8},{"x":47.2,"y":10.9},{"x":47.2,"y":14.0},{"x":47.2,"y":17.1},{"x":47.2,"y":20.2},{"x":47.2,"y":23.3},
      {"x":48.4,"y":4.4},{"x":48.4,"y":7.5},{"x":48.4,"y":10.6},{"x":48.4,"y":13.7},{"x":48.4,"y":16.8},{"x":48.4,"y":19.9},{"x":48.4,"y":23.0},{"x":48.4,"y":25.8},
      {"x":49.6,"y":5.5},{"x":49.6,"y":8.7},{"x":49.6,"y":11.9},{"x":49.6,"y":15.1},{"x":49.6,"y":18.3},{"x":49.6,"y":21.5},{"x":49.6,"y":24.7},
      {"x":50.8,"y":5.2},{"x":50.8,"y":8.4},{"x":50.8,"y":11.6},{"x":50.8,"y":14.8},{"x":50.8,"y":18.0},{"x":50.8,"y":21.2},{"x":50.8,"y":24.4},{"x":50.8,"y":27.5},
      {"x":52.0,"y":6.4},{"x":52.0,"y":9.7},{"x":52.0,"y":13.0},{"x":52.0,"y":16.3},{"x":52.0,"y":19.6},{"x":52.0,"y":22.9},{"x":52.0,"y":26.2},{"x":52.0,"y":29.5},
      {"x":53.2,"y":7.0},{"x":53.2,"y":10.4},{"x":53.2,"y":13.8},{"x":53.2,"y":17.2},{"x":53.2,"y":20.6},{"x":53.2,"y":24.0},{"x":53.2,"y":27.4},
      {"x":54.4,"y":8.0},{"x":54.4,"y":11.5},{"x":54.4,"y":15.0},{"x":54.4,"y":18.5},{"x":54.4,"y":22.0},{"x":54.4,"y":25.5},{"x":54.4,"y":29.0},{"x":54.4,"y":31.5},
      {"x":55.6,"y":9.0},{"x":55.6,"y":12.6},{"x":55.6,"y":16.2},{"x":55.6,"y":19.8},{"x":55.6,"y":23.4},{"x":55.6,"y":27.0},{"x":55.6,"y":30.0},
      {"x":56.8,"y":10.0},{"x":56.8,"y":13.7},{"x":56.8,"y":17.4},{"x":56.8,"y":21.1},{"x":56.8,"y":24.8},{"x":56.8,"y":28.5},{"x":56.8,"y":32.0},
      {"x":58.0,"y":11.2},{"x":58.0,"y":15.0},{"x":58.0,"y":18.8},{"x":58.0,"y":22.6},{"x":58.0,"y":26.4},{"x":58.0,"y":30.2},{"x":58.0,"y":33.5},
      {"x":59.2,"y":12.0},{"x":59.2,"y":16.0},{"x":59.2,"y":20.0},{"x":59.2,"y":24.0},{"x":59.2,"y":28.0},{"x":59.2,"y":31.5},
      {"x":60.4,"y":13.5},{"x":60.4,"y":17.5},{"x":60.4,"y":21.5},{"x":60.4,"y":25.5},{"x":60.4,"y":29.5},{"x":60.4,"y":33.5},
      {"x":61.6,"y":12.5},{"x":61.6,"y":17.0},{"x":61.6,"y":21.5},{"x":61.6,"y":26.0},{"x":61.6,"y":30.5},{"x":61.6,"y":35.0},
      {"x":62.8,"y":15.5},{"x":62.8,"y":20.0},{"x":62.8,"y":24.5},{"x":62.8,"y":29.0},{"x":62.8,"y":33.5},{"x":62.8,"y":38.0},
      {"x":64.0,"y":18.0},{"x":64.0,"y":23.0},{"x":64.0,"y":28.0},{"x":64.0,"y":33.0},{"x":64.0,"y":37.5},
      {"x":65.2,"y":20.0},{"x":65.2,"y":25.0},{"x":65.2,"y":30.0},{"x":65.2,"y":35.0},{"x":65.2,"y":40.0},
      {"x":66.4,"y":19.0},{"x":66.4,"y":24.5},{"x":66.4,"y":31.0},{"x":66.4,"y":37.0},{"x":67.6,"y":22.5},{"x":67.6,"y":28.0},{"x":67.6,"y":34.0},{"x":67.6,"y":39.5},
      {"x":68.8,"y":26.0},{"x":68.8,"y":31.5},{"x":68.8,"y":37.5},{"x":70.0,"y":24.5},{"x":70.0,"y":30.0},{"x":70.0,"y":36.0},{"x":70.0,"y":42.0},
      {"x":71.2,"y":28.5},{"x":71.2,"y":34.5},{"x":71.2,"y":40.5},{"x":72.4,"y":31.0},{"x":72.4,"y":38.0},{"x":72.4,"y":44.0},
      {"x":73.6,"y":29.0},{"x":73.6,"y":36.0},{"x":73.6,"y":42.5},{"x":75.0,"y":33.0},{"x":75.0,"y":40.0},{"x":75.0,"y":46.0},{"x":76.4,"y":37.0},{"x":76.4,"y":44.0},
      {"x":89.2,"y":76.6},{"x":84.1,"y":71.0},{"x":74.9,"y":66.5},{"x":91.4,"y":46.6},{"x":69.3,"y":59.7},{"x":66.8,"y":55.6},{"x":69.7,"y":54.4},{"x":75.7,"y":54.4},
      {"x":69.5,"y":48.1},{"x":74.3,"y":48.5},{"x":75.3,"y":47.9},{"x":77.6,"y":48.3},{"x":83.8,"y":50.4},{"x":81.2,"y":42.9},{"x":80.0,"y":41.5},{"x":59.0,"y":46.0},
      {"x":61.9,"y":46.3},{"x":65.0,"y":44.8},{"x":60.8,"y":42.9},{"x":62.6,"y":42.4},{"x":57.4,"y":39.7},{"x":57.4,"y":37.4},{"x":80.7,"y":34.0},{"x":78.1,"y":29.7},
      {"x":78.0,"y":27.1},{"x":78.3,"y":33.4},{"x":75.5,"y":32.2},{"x":74.5,"y":35.7},{"x":72.5,"y":32.9},{"x":73.3,"y":23.9},{"x":73.8,"y":25.7},{"x":70.9,"y":25.2},
      {"x":68.5,"y":22.2},{"x":67.6,"y":16.8},{"x":66.2,"y":14.0},{"x":64.7,"y":15.2},{"x":55.4,"y":5.9},{"x":56.9,"y":6.8},{"x":52.9,"y":5.9},{"x":53.7,"y":8.4},
      {"x":49.7,"y":2.4},{"x":48.2,"y":3.5},{"x":51.8,"y":34.3},{"x":45.0,"y":27.6},{"x":46.4,"y":27.3},{"x":41.1,"y":25.3},{"x":42.8,"y":23.6},{"x":37.7,"y":21.9},
      {"x":37.6,"y":18.0},{"x":33.2,"y":17.1},{"x":28.8,"y":9.6},{"x":22.1,"y":6.3},{"x":37.5,"y":0.9},
      {"x":14.2,"y":0.6},{"x":15.4,"y":0.5},{"x":15.4,"y":1.0},{"x":16.6,"y":0.6},{"x":16.6,"y":1.3},{"x":17.8,"y":0.8},{"x":17.8,"y":1.6},{"x":19.0,"y":0.7},{"x":19.0,"y":1.8},
      {"x":20.2,"y":0.9},{"x":20.2,"y":2.1},{"x":21.4,"y":1.0},{"x":21.4,"y":2.3},{"x":21.4,"y":3.4},{"x":22.6,"y":1.1},{"x":22.6,"y":2.6},{"x":23.8,"y":1.2},{"x":23.8,"y":2.8},{"x":23.8,"y":4.2},
      {"x":25.0,"y":1.3},{"x":25.0,"y":3.0},{"x":25.0,"y":4.6},{"x":26.2,"y":1.4},{"x":26.2,"y":3.2},{"x":26.2,"y":5.0},{"x":27.4,"y":1.5},{"x":27.4,"y":3.5},{"x":27.4,"y":5.5},
      {"x":28.6,"y":1.6},{"x":28.6,"y":3.7},{"x":28.6,"y":5.8},{"x":28.6,"y":7.6},
      {"x":29.8,"y":1.7},{"x":29.8,"y":3.9},{"x":29.8,"y":6.1},{"x":29.8,"y":8.2},{"x":31.0,"y":1.8},{"x":31.0,"y":4.2},{"x":31.0,"y":6.6},{"x":31.0,"y":8.8},
      {"x":32.2,"y":2.0},{"x":32.2,"y":4.5},{"x":32.2,"y":7.0},{"x":32.2,"y":9.5},{"x":33.4,"y":2.2},{"x":33.4,"y":4.8},{"x":33.4,"y":7.4},{"x":33.4,"y":10.0},
      {"x":34.6,"y":2.4},{"x":34.6,"y":5.1},{"x":34.6,"y":7.8},{"x":34.6,"y":10.5},{"x":35.8,"y":2.6},{"x":35.8,"y":5.4},{"x":35.8,"y":8.2},{"x":35.8,"y":11.0},{"x":35.8,"y":13.0},
      {"x":37.0,"y":2.8},{"x":37.0,"y":5.7},{"x":37.0,"y":8.6},{"x":37.0,"y":11.5},{"x":37.0,"y":14.0},{"x":38.2,"y":3.0},{"x":38.2,"y":6.0},{"x":38.2,"y":9.0},{"x":38.2,"y":12.0},{"x":38.2,"y":15.0},
      {"x":39.4,"y":3.3},{"x":39.4,"y":6.4},{"x":39.4,"y":9.5},{"x":39.4,"y":12.6},{"x":39.4,"y":15.7},{"x":40.6,"y":3.6},{"x":40.6,"y":6.8},{"x":40.6,"y":10.0},{"x":40.6,"y":13.2},{"x":40.6,"y":16.4},
      {"x":41.8,"y":3.9},{"x":41.8,"y":7.2},{"x":41.8,"y":10.5},{"x":41.8,"y":13.8},{"x":41.8,"y":17.1},{"x":43.0,"y":4.2},{"x":43.0,"y":7.6},{"x":43.0,"y":11.0},{"x":43.0,"y":14.4},{"x":43.0,"y":17.8},
      {"x":44.2,"y":4.6},{"x":44.2,"y":8.1},{"x":44.2,"y":11.6},{"x":44.2,"y":15.1},{"x":44.2,"y":18.6},{"x":45.4,"y":5.0},{"x":45.4,"y":8.6},{"x":45.4,"y":12.2},{"x":45.4,"y":15.8},{"x":45.4,"y":19.4},
      {"x":46.6,"y":5.4},{"x":46.6,"y":9.1},{"x":46.6,"y":12.8},{"x":46.6,"y":16.5},{"x":46.6,"y":20.2},{"x":46.6,"y":23.5},
      {"x":47.8,"y":5.9},{"x":47.8,"y":9.7},{"x":47.8,"y":13.5},{"x":47.8,"y":17.3},{"x":47.8,"y":21.1},{"x":47.8,"y":24.5},
      {"x":49.0,"y":6.4},{"x":49.0,"y":10.3},{"x":49.0,"y":14.2},{"x":49.0,"y":18.1},{"x":49.0,"y":22.0},{"x":49.0,"y":25.5},
      {"x":50.2,"y":6.9},{"x":50.2,"y":10.9},{"x":50.2,"y":14.9},{"x":50.2,"y":18.9},{"x":50.2,"y":22.9},{"x":50.2,"y":26.5},
      {"x":51.4,"y":7.5},{"x":51.4,"y":11.6},{"x":51.4,"y":15.7},{"x":51.4,"y":19.8},{"x":51.4,"y":23.9},{"x":51.4,"y":27.5},
      {"x":52.6,"y":8.1},{"x":52.6,"y":12.3},{"x":52.6,"y":16.5},{"x":52.6,"y":20.7},{"x":52.6,"y":24.9},
      {"x":53.8,"y":8.8},{"x":53.8,"y":13.1},{"x":53.8,"y":17.4},{"x":53.8,"y":21.7},{"x":53.8,"y":26.0},
      {"x":55.0,"y":9.6},{"x":55.0,"y":14.0},{"x":55.0,"y":18.4},{"x":55.0,"y":22.8},{"x":55.0,"y":27.2},
      {"x":56.2,"y":10.5},{"x":56.2,"y":15.0},{"x":56.2,"y":19.5},{"x":56.2,"y":24.0},{"x":56.2,"y":28.5},
      {"x":57.4,"y":11.5},{"x":57.4,"y":16.0},{"x":57.4,"y":20.5},{"x":57.4,"y":25.0},{"x":57.4,"y":29.5},
      {"x":58.6,"y":12.5},{"x":58.6,"y":17.0},{"x":58.6,"y":21.5},{"x":58.6,"y":26.0}
    ],
    "hs": [
      {"x":12.5,"y":0.4},{"x":13.0,"y":1.0},{"x":14.2,"y":0.5},{"x":14.2,"y":1.3},{"x":15.4,"y":0.6},{"x":15.4,"y":1.7},{"x":16.6,"y":0.5},{"x":16.6,"y":1.5},{"x":16.6,"y":2.4},
      {"x":17.8,"y":0.8},{"x":17.8,"y":2.1},{"x":17.8,"y":3.0},{"x":19.0,"y":0.7},{"x":19.0,"y":2.0},{"x":19.0,"y":3.3},{"x":20.2,"y":1.0},{"x":20.2,"y":2.6},{"x":20.2,"y":4.1},
      {"x":21.4,"y":0.8},{"x":21.4,"y":2.3},{"x":21.4,"y":3.8},{"x":21.4,"y":5.0},{"x":22.6,"y":1.1},{"x":22.6,"y":2.9},{"x":22.6,"y":4.7},
      {"x":23.8,"y":0.9},{"x":23.8,"y":2.6},{"x":23.8,"y":4.3},{"x":23.8,"y":6.0},{"x":25.0,"y":1.2},{"x":25.0,"y":3.2},{"x":25.0,"y":5.2},{"x":25.0,"y":7.0},
      {"x":26.2,"y":1.0},{"x":26.2,"y":2.9},{"x":26.2,"y":4.9},{"x":26.2,"y":6.9},{"x":27.4,"y":1.4},{"x":27.4,"y":3.6},{"x":27.4,"y":5.8},{"x":27.4,"y":8.0},
      {"x":28.6,"y":1.2},{"x":28.6,"y":3.3},{"x":28.6,"y":5.5},{"x":28.6,"y":7.7},{"x":28.6,"y":9.7},
      {"x":29.8,"y":1.6},{"x":29.8,"y":4.0},{"x":29.8,"y":6.5},{"x":29.8,"y":9.0},{"x":29.8,"y":11.0},
      {"x":31.0,"y":1.4},{"x":31.0,"y":3.7},{"x":31.0,"y":6.1},{"x":31.0,"y":8.5},{"x":31.0,"y":10.8},
      {"x":32.2,"y":2.0},{"x":32.2,"y":4.5},{"x":32.2,"y":7.1},{"x":32.2,"y":9.7},{"x":32.2,"y":12.3},
      {"x":33.4,"y":1.7},{"x":33.4,"y":4.1},{"x":33.4,"y":6.7},{"x":33.4,"y":9.3},{"x":33.4,"y":11.9},{"x":33.4,"y":14.3},
      {"x":34.6,"y":2.4},{"x":34.6,"y":5.0},{"x":34.6,"y":7.7},{"x":34.6,"y":10.4},{"x":34.6,"y":13.1},{"x":34.6,"y":15.6},
      {"x":35.8,"y":2.1},{"x":35.8,"y":4.6},{"x":35.8,"y":7.3},{"x":35.8,"y":10.0},{"x":35.8,"y":12.7},{"x":35.8,"y":15.4},{"x":35.8,"y":17.5},
      {"x":37.0,"y":2.9},{"x":37.0,"y":5.6},{"x":37.0,"y":8.4},{"x":37.0,"y":11.2},{"x":37.0,"y":14.0},{"x":37.0,"y":16.8},
      {"x":38.2,"y":2.6},{"x":38.2,"y":5.2},{"x":38.2,"y":8.0},{"x":38.2,"y":10.8},{"x":38.2,"y":13.6},{"x":38.2,"y":16.4},{"x":38.2,"y":19.0},
      {"x":39.4,"y":3.3},{"x":39.4,"y":6.2},{"x":39.4,"y":9.1},{"x":39.4,"y":12.0},{"x":39.4,"y":14.9},{"x":39.4,"y":17.8},{"x":39.4,"y":20.5},
      {"x":40.6,"y":3.0},{"x":40.6,"y":5.8},{"x":40.6,"y":8.7},{"x":40.6,"y":11.6},{"x":40.6,"y":14.5},{"x":40.6,"y":17.4},{"x":40.6,"y":20.3},{"x":40.6,"y":22.5},
      {"x":41.8,"y":3.8},{"x":41.8,"y":6.8},{"x":41.8,"y":9.8},{"x":41.8,"y":12.8},{"x":41.8,"y":15.8},{"x":41.8,"y":18.8},{"x":41.8,"y":21.8},
      {"x":43.0,"y":3.5},{"x":43.0,"y":6.4},{"x":43.0,"y":9.4},{"x":43.0,"y":12.4},{"x":43.0,"y":15.4},{"x":43.0,"y":18.4},{"x":43.0,"y":21.4},{"x":43.0,"y":24.3},
      {"x":44.2,"y":4.3},{"x":44.2,"y":7.4},{"x":44.2,"y":10.5},{"x":44.2,"y":13.6},{"x":44.2,"y":16.7},{"x":44.2,"y":19.8},{"x":44.2,"y":22.9},{"x":44.2,"y":25.8},
      {"x":45.4,"y":4.0},{"x":45.4,"y":7.0},{"x":45.4,"y":10.1},{"x":45.4,"y":13.2},{"x":45.4,"y":16.3},{"x":45.4,"y":19.4},{"x":45.4,"y":22.5},{"x":45.4,"y":25.6},{"x":45.4,"y":28.0},
      {"x":46.6,"y":4.8},{"x":46.6,"y":8.0},{"x":46.6,"y":11.2},{"x":46.6,"y":14.4},{"x":46.6,"y":17.6},{"x":46.6,"y":20.8},{"x":46.6,"y":24.0},{"x":46.6,"y":27.2},
      {"x":47.8,"y":4.5},{"x":47.8,"y":7.7},{"x":47.8,"y":10.9},{"x":47.8,"y":14.1},{"x":47.8,"y":17.3},{"x":47.8,"y":20.5},{"x":47.8,"y":23.7},{"x":47.8,"y":26.9},{"x":47.8,"y":29.8},
      {"x":49.0,"y":5.6},{"x":49.0,"y":8.9},{"x":49.0,"y":12.2},{"x":49.0,"y":15.5},{"x":49.0,"y":18.8},{"x":49.0,"y":22.1},{"x":49.0,"y":25.4},{"x":49.0,"y":28.7},
      {"x":50.2,"y":5.2},{"x":50.2,"y":8.5},{"x":50.2,"y":11.8},{"x":50.2,"y":15.1},{"x":50.2,"y":18.4},{"x":50.2,"y":21.7},{"x":50.2,"y":25.0},{"x":50.2,"y":28.3},{"x":50.2,"y":31.5},
      {"x":51.4,"y":6.3},{"x":51.4,"y":9.7},{"x":51.4,"y":13.1},{"x":51.4,"y":16.5},{"x":51.4,"y":19.9},{"x":51.4,"y":23.3},{"x":51.4,"y":26.7},{"x":51.4,"y":30.1},
      {"x":52.6,"y":5.9},{"x":52.6,"y":9.3},{"x":52.6,"y":12.7},{"x":52.6,"y":16.1},{"x":52.6,"y":19.5},{"x":52.6,"y":22.9},{"x":52.6,"y":26.3},{"x":52.6,"y":29.7},{"x":52.6,"y":33.0},
      {"x":53.8,"y":7.2},{"x":53.8,"y":10.7},{"x":53.8,"y":14.2},{"x":53.8,"y":17.7},{"x":53.8,"y":21.2},{"x":53.8,"y":24.7},{"x":53.8,"y":28.2},{"x":53.8,"y":31.7},
      {"x":55.0,"y":8.5},{"x":55.0,"y":12.0},{"x":55.0,"y":15.5},{"x":55.0,"y":19.0},{"x":55.0,"y":22.5},{"x":55.0,"y":26.0},{"x":55.0,"y":29.5},{"x":55.0,"y":33.0},{"x":55.0,"y":36.0},
      {"x":56.2,"y":9.5},{"x":56.2,"y":13.1},{"x":56.2,"y":16.7},{"x":56.2,"y":20.3},{"x":56.2,"y":23.9},{"x":56.2,"y":27.5},{"x":56.2,"y":31.1},{"x":56.2,"y":34.5},
      {"x":57.4,"y":10.5},{"x":57.4,"y":14.1},{"x":57.4,"y":17.7},{"x":57.4,"y":21.3},{"x":57.4,"y":24.9},{"x":57.4,"y":28.5},{"x":57.4,"y":32.1},{"x":57.4,"y":35.7},{"x":57.4,"y":38.5},
      {"x":58.6,"y":11.5},{"x":58.6,"y":15.2},{"x":58.6,"y":18.9},{"x":58.6,"y":22.6},{"x":58.6,"y":26.3},{"x":58.6,"y":30.0},{"x":58.6,"y":33.7},{"x":58.6,"y":37.2},
      {"x":59.8,"y":12.5},{"x":59.8,"y":16.3},{"x":59.8,"y":20.1},{"x":59.8,"y":23.9},{"x":59.8,"y":27.7},{"x":59.8,"y":31.5},{"x":59.8,"y":35.3},{"x":59.8,"y":39.0},
      {"x":61.0,"y":13.8},{"x":61.0,"y":17.7},{"x":61.0,"y":21.6},{"x":61.0,"y":25.5},{"x":61.0,"y":29.4},{"x":61.0,"y":33.3},{"x":61.0,"y":37.2},{"x":61.0,"y":41.0},
      {"x":62.2,"y":15.0},{"x":62.2,"y":19.0},{"x":62.2,"y":23.0},{"x":62.2,"y":27.0},{"x":62.2,"y":31.0},{"x":62.2,"y":35.0},{"x":62.2,"y":39.0},
      {"x":63.4,"y":16.5},{"x":63.4,"y":20.6},{"x":63.4,"y":24.7},{"x":63.4,"y":28.8},{"x":63.4,"y":32.9},{"x":63.4,"y":37.0},{"x":63.4,"y":41.5},
      {"x":64.6,"y":18.0},{"x":64.6,"y":22.5},{"x":64.6,"y":27.0},{"x":64.6,"y":31.5},{"x":64.6,"y":36.0},{"x":64.6,"y":40.5},{"x":64.6,"y":44.5},
      {"x":65.8,"y":19.5},{"x":65.8,"y":24.0},{"x":65.8,"y":28.5},{"x":65.8,"y":33.0},{"x":65.8,"y":37.5},{"x":65.8,"y":42.0},
      {"x":67.0,"y":21.0},{"x":67.0,"y":26.0},{"x":67.0,"y":31.0},{"x":67.0,"y":36.0},{"x":67.0,"y":41.0},{"x":67.0,"y":45.5},
      {"x":68.2,"y":22.5},{"x":68.2,"y":27.5},{"x":68.2,"y":32.5},{"x":68.2,"y":37.5},{"x":68.2,"y":42.5},{"x":68.2,"y":47.0},
      {"x":69.4,"y":25.0},{"x":69.4,"y":30.5},{"x":69.4,"y":36.0},{"x":69.4,"y":41.0},{"x":69.4,"y":46.0},
      {"x":70.6,"y":27.0},{"x":70.6,"y":33.0},{"x":70.6,"y":38.5},{"x":70.6,"y":44.0},{"x":70.6,"y":49.5},
      {"x":71.8,"y":29.5},{"x":71.8,"y":35.5},{"x":71.8,"y":41.5},{"x":71.8,"y":47.0},{"x":73.0,"y":32.0},{"x":73.0,"y":38.0},{"x":73.0,"y":44.0},{"x":73.0,"y":50.5},
      {"x":74.2,"y":35.5},{"x":74.2,"y":41.5},{"x":74.2,"y":47.5},{"x":75.4,"y":38.0},{"x":75.4,"y":44.5},{"x":75.4,"y":51.0},{"x":76.6,"y":41.0},{"x":76.6,"y":48.0},
      {"x":77.8,"y":45.0},{"x":77.8,"y":38.0},
      {"x":78.5,"y":64.0},{"x":78.9,"y":57.5},{"x":82.6,"y":56.5},{"x":67.6,"y":57.1},{"x":71.7,"y":56.2},{"x":75.2,"y":54.9},{"x":74.3,"y":53.7},{"x":67.5,"y":53.5},
      {"x":70.4,"y":53.2},{"x":65.1,"y":51.3},{"x":66.5,"y":50.4},{"x":76.6,"y":50.2},{"x":88.1,"y":43.7},{"x":84.0,"y":43.8},{"x":83.8,"y":42.4},{"x":80.6,"y":40.2},
      {"x":78.1,"y":42.1},{"x":75.7,"y":42.0},{"x":76.5,"y":46.9},{"x":72.1,"y":46.0},{"x":57.7,"y":49.1},{"x":59.3,"y":48.5},{"x":60.9,"y":48.3},{"x":62.6,"y":48.1},
      {"x":55.1,"y":44.8},{"x":56.7,"y":46.3},{"x":58.9,"y":43.7},{"x":52.0,"y":40.7},{"x":53.6,"y":39.5},{"x":48.9,"y":37.3},{"x":47.2,"y":34.3},{"x":78.1,"y":34.5},
      {"x":78.4,"y":32.6},{"x":77.4,"y":29.7},{"x":73.4,"y":30.6},{"x":73.2,"y":25.9},{"x":70.8,"y":24.5},{"x":68.8,"y":24.5},{"x":67.5,"y":23.6},{"x":72.1,"y":28.7},
      {"x":64.2,"y":19.4},{"x":63.0,"y":14.3},{"x":61.3,"y":13.8},{"x":57.2,"y":10.1},{"x":55.1,"y":8.7},{"x":52.3,"y":4.0},{"x":50.8,"y":6.3},{"x":38.7,"y":1.7},
      {"x":31.1,"y":0.7},{"x":27.5,"y":9.6},{"x":21.7,"y":5.9},{"x":39.1,"y":23.9},{"x":43.0,"y":25.0},{"x":44.1,"y":28.3},{"x":34.0,"y":17.7},{"x":35.5,"y":18.2},
      {"x":13.6,"y":0.7},{"x":14.8,"y":0.5},{"x":14.8,"y":1.2},{"x":16.0,"y":0.7},{"x":16.0,"y":1.7},{"x":17.2,"y":0.6},{"x":17.2,"y":1.7},{"x":18.4,"y":0.9},{"x":18.4,"y":2.2},
      {"x":19.6,"y":0.8},{"x":19.6,"y":2.4},{"x":20.8,"y":1.0},{"x":20.8,"y":2.8},{"x":22.0,"y":1.0},{"x":22.0,"y":2.6},{"x":22.0,"y":4.0},{"x":23.2,"y":1.2},{"x":23.2,"y":3.1},{"x":23.2,"y":4.8},
      {"x":24.4,"y":1.1},{"x":24.4,"y":3.0},{"x":24.4,"y":4.9},{"x":25.6,"y":1.3},{"x":25.6,"y":3.5},{"x":25.6,"y":5.7},{"x":26.8,"y":1.2},{"x":26.8,"y":3.4},{"x":26.8,"y":5.6},{"x":26.8,"y":7.4},
      {"x":28.0,"y":1.5},{"x":28.0,"y":3.9},{"x":28.0,"y":6.3},{"x":28.0,"y":8.4},{"x":29.2,"y":1.4},{"x":29.2,"y":3.8},{"x":29.2,"y":6.2},{"x":29.2,"y":8.6},
      {"x":30.4,"y":1.6},{"x":30.4,"y":4.1},{"x":30.4,"y":6.6},{"x":30.4,"y":9.1},{"x":31.6,"y":1.7},{"x":31.6,"y":4.3},{"x":31.6,"y":6.9},{"x":31.6,"y":9.5},{"x":31.6,"y":11.5},
      {"x":32.8,"y":1.9},{"x":32.8,"y":4.6},{"x":32.8,"y":7.3},{"x":32.8,"y":10.0},{"x":32.8,"y":12.5},{"x":34.0,"y":2.1},{"x":34.0,"y":4.9},{"x":34.0,"y":7.7},{"x":34.0,"y":10.5},{"x":34.0,"y":13.3},
      {"x":35.2,"y":2.3},{"x":35.2,"y":5.2},{"x":35.2,"y":8.1},{"x":35.2,"y":11.0},{"x":35.2,"y":13.9},{"x":35.2,"y":16.0},
      {"x":36.4,"y":2.5},{"x":36.4,"y":5.5},{"x":36.4,"y":8.5},{"x":36.4,"y":11.5},{"x":36.4,"y":14.5},{"x":36.4,"y":17.0},
      {"x":37.6,"y":2.8},{"x":37.6,"y":5.9},{"x":37.6,"y":9.0},{"x":37.6,"y":12.1},{"x":37.6,"y":15.2},{"x":37.6,"y":18.0},
      {"x":38.8,"y":3.0},{"x":38.8,"y":6.2},{"x":38.8,"y":9.4},{"x":38.8,"y":12.6},{"x":38.8,"y":15.8},{"x":38.8,"y":18.8},
      {"x":40.0,"y":3.3},{"x":40.0,"y":6.6},{"x":40.0,"y":9.9},{"x":40.0,"y":13.2},{"x":40.0,"y":16.5},{"x":40.0,"y":19.8},
      {"x":41.2,"y":3.6},{"x":41.2,"y":7.0},{"x":41.2,"y":10.4},{"x":41.2,"y":13.8},{"x":41.2,"y":17.2},{"x":41.2,"y":20.6},
      {"x":42.4,"y":3.9},{"x":42.4,"y":7.4},{"x":42.4,"y":10.9},{"x":42.4,"y":14.4},{"x":42.4,"y":17.9},{"x":42.4,"y":21.4},
      {"x":43.6,"y":4.2},{"x":43.6,"y":7.8},{"x":43.6,"y":11.4},{"x":43.6,"y":15.0},{"x":43.6,"y":18.6},{"x":43.6,"y":22.2},
      {"x":44.8,"y":4.5},{"x":44.8,"y":8.2},{"x":44.8,"y":11.9},{"x":44.8,"y":15.6},{"x":44.8,"y":19.3},{"x":44.8,"y":23.0},
      {"x":46.0,"y":4.8},{"x":46.0,"y":8.6},{"x":46.0,"y":12.4},{"x":46.0,"y":16.2},{"x":46.0,"y":20.0},{"x":46.0,"y":23.8},
      {"x":47.2,"y":5.1},{"x":47.2,"y":9.0},{"x":47.2,"y":12.9},{"x":47.2,"y":16.8},{"x":47.2,"y":20.7},{"x":47.2,"y":24.6},
      {"x":48.4,"y":5.5},{"x":48.4,"y":9.5},{"x":48.4,"y":13.5},{"x":48.4,"y":17.5},{"x":48.4,"y":21.5},{"x":48.4,"y":25.5},
      {"x":49.6,"y":5.9},{"x":49.6,"y":10.0},{"x":49.6,"y":14.1},{"x":49.6,"y":18.2},{"x":49.6,"y":22.3},{"x":49.6,"y":26.4},
      {"x":50.8,"y":6.3},{"x":50.8,"y":10.5},{"x":50.8,"y":14.7},{"x":50.8,"y":18.9},{"x":50.8,"y":23.1},{"x":50.8,"y":27.3},
      {"x":52.0,"y":6.8},{"x":52.0,"y":11.1},{"x":52.0,"y":15.4},{"x":52.0,"y":19.7},{"x":52.0,"y":24.0},{"x":52.0,"y":28.3},
      {"x":53.2,"y":7.3},{"x":53.2,"y":11.7},{"x":53.2,"y":16.1},{"x":53.2,"y":20.5},{"x":53.2,"y":24.9},{"x":53.2,"y":29.3},
      {"x":54.4,"y":8.0},{"x":54.4,"y":12.5},{"x":54.4,"y":17.0},{"x":54.4,"y":21.5},{"x":54.4,"y":26.0},{"x":54.4,"y":30.5},
      {"x":55.6,"y":8.8},{"x":55.6,"y":13.4},{"x":55.6,"y":18.0},{"x":55.6,"y":22.6},{"x":55.6,"y":27.2},{"x":55.6,"y":31.5},
      {"x":56.8,"y":9.8},{"x":56.8,"y":14.5},{"x":56.8,"y":19.2},{"x":56.8,"y":23.9},{"x":56.8,"y":28.6},{"x":56.8,"y":33.0},
      {"x":58.0,"y":10.8},{"x":58.0,"y":15.6},{"x":58.0,"y":20.4},{"x":58.0,"y":25.2},{"x":58.0,"y":30.0},{"x":58.0,"y":34.5},
      {"x":59.2,"y":12.0},{"x":59.2,"y":16.9},{"x":59.2,"y":21.8},{"x":59.2,"y":26.7},{"x":59.2,"y":31.6},
      {"x":60.4,"y":13.0},{"x":60.4,"y":18.0},{"x":60.4,"y":23.0},{"x":60.4,"y":28.0},{"x":60.4,"y":33.0},
      {"x":61.6,"y":14.5},{"x":61.6,"y":19.5},{"x":61.6,"y":24.5},{"x":61.6,"y":29.5},{"x":61.6,"y":34.5},
      {"x":62.8,"y":16.0},{"x":62.8,"y":21.0},{"x":62.8,"y":26.0},{"x":62.8,"y":31.0},{"x":62.8,"y":36.0}
    ],
    "fit": [
      {"p":"CHT","x":13.3,"y":0.89},{"p":"CHT","x":16,"y":1.36},{"p":"CHT","x":20,"y":2.25},{"p":"CHT","x":25,"y":3.73},{"p":"CHT","x":30,"y":5.63},{"p":"CHT","x":35,"y":7.97},
      {"p":"CHT","x":40,"y":10.77},{"p":"CHT","x":45,"y":14.06},{"p":"CHT","x":50,"y":17.85},{"p":"CHT","x":55,"y":22.13},{"p":"CHT","x":60,"y":26.9},{"p":"CHT","x":65,"y":32.3},
      {"p":"CHT","x":70,"y":38.1},{"p":"CHT","x":75,"y":44.6},{"p":"CHT","x":80,"y":51.6},{"p":"CHT","x":85,"y":59.1},{"p":"CHT","x":88.1,"y":64.1},
      {"p":"CS","x":13,"y":0.71},{"p":"CS","x":16,"y":1.15},{"p":"CS","x":20,"y":1.93},{"p":"CS","x":25,"y":3.24},{"p":"CS","x":30,"y":4.95},{"p":"CS","x":35,"y":7.07},
      {"p":"CS","x":40,"y":9.64},{"p":"CS","x":45,"y":12.67},{"p":"CS","x":50,"y":16.17},{"p":"CS","x":55,"y":20.2},{"p":"CS","x":60,"y":24.7},{"p":"CS","x":65,"y":29.7},
      {"p":"CS","x":70,"y":35.2},{"p":"CS","x":75,"y":41.4},{"p":"CS","x":80,"y":48.1},{"p":"CS","x":85,"y":55.4},{"p":"CS","x":90,"y":63.3},{"p":"CS","x":95,"y":71.7},
      {"p":"CS","x":100,"y":80.7},{"p":"CS","x":103.7,"y":87.8},
      {"p":"HCT","x":12.5,"y":0.58},{"p":"HCT","x":16,"y":1.03},{"p":"HCT","x":20,"y":1.75},{"p":"HCT","x":25,"y":2.97},{"p":"HCT","x":30,"y":4.57},{"p":"HCT","x":35,"y":6.56},
      {"p":"HCT","x":40,"y":9.0},{"p":"HCT","x":45,"y":11.88},{"p":"HCT","x":50,"y":15.23},{"p":"HCT","x":55,"y":19.07},{"p":"HCT","x":60,"y":23.4},{"p":"HCT","x":65,"y":28.3},
      {"p":"HCT","x":70,"y":33.7},{"p":"HCT","x":75,"y":39.6},{"p":"HCT","x":80,"y":46.2},{"p":"HCT","x":85,"y":53.3},{"p":"HCT","x":91.3,"y":63.0},
      {"p":"HS","x":12.5,"y":0.67},{"p":"HS","x":16,"y":1.2},{"p":"HS","x":20,"y":2.03},{"p":"HS","x":25,"y":3.45},{"p":"HS","x":30,"y":5.3},{"p":"HS","x":35,"y":7.62},
      {"p":"HS","x":40,"y":10.45},{"p":"HS","x":45,"y":13.8},{"p":"HS","x":50,"y":17.68},{"p":"HS","x":55,"y":22.1},{"p":"HS","x":60,"y":27.2},{"p":"HS","x":65,"y":32.8},
      {"p":"HS","x":70,"y":39.1},{"p":"HS","x":75,"y":46.0},{"p":"HS","x":80,"y":53.6},{"p":"HS","x":85,"y":61.9},{"p":"HS","x":87.9,"y":67.0}
    ],
    "lab": [
      {"p":"CHT","x":13.4,"y":80,"t":"y = 0.003 * x^2.26"},{"p":"CHT","x":13.4,"y":70,"t":"(R² = 0.79)"},
      {"p":"CS","x":13.4,"y":80,"t":"y = 0.002 * x^2.32"},{"p":"CS","x":13.4,"y":70,"t":"(R² = 0.77)"},
      {"p":"HCT","x":13.4,"y":80,"t":"y = 0.001 * x^2.36"},{"p":"HCT","x":13.4,"y":70,"t":"(R² = 0.76)"},
      {"p":"HS","x":13.4,"y":80,"t":"y = 0.002 * x^2.36"},{"p":"HS","x":13.4,"y":70,"t":"(R² = 0.8)"}
    ]
  },
  "hconcat": [
    {
      "width": 30, "height": 858,
      "view": {"stroke": null},
      "data": {"values": [{"t": "Total weight (g)"}]},
      "mark": {"type": "text", "angle": 270, "font": "Liberation Sans", "fontSize": 29.5, "fontWeight": "bold", "color": "#000000", "baseline": "middle"},
      "encoding": {"text": {"field": "t", "type": "nominal"}}
    },
    {
      "title": {"text": "Relation allométrique à Hitou", "font": "Liberation Sans", "fontSize": 33, "fontWeight": "bold", "color": "#000000", "anchor": "middle", "offset": 16, "dx": 18},
      "spacing": 6,
      "vconcat": [
        {
          "spacing": 15,
          "vconcat": [
            {
              "spacing": 18,
              "hconcat": [
                {
                  "spacing": 0,
                  "vconcat": [
                    {
                      "width": 655, "height": 50,
                      "view": {"fill": "#D9D9D9", "stroke": "#333333", "strokeWidth": 1.5},
                      "data": {"values": [{"t": "Cold-Hot Transition (CHT)"}]},
                      "mark": {"type": "text", "font": "Liberation Sans", "fontSize": 30, "fontWeight": "bold", "color": "#1A1A1A", "baseline": "middle", "dy": 2},
                      "encoding": {"text": {"field": "t", "type": "nominal"}}
                    },
                    {
                      "width": 655, "height": 345,
                      "encoding": {
                        "x": {"field": "x", "type": "quantitative", "scale": {"domain": [8, 108.2], "nice": false, "zero": false},
                          "axis": {"values": [12.5, 25, 37.5, 50, 62.5, 75, 87.5, 100], "labels": false, "ticks": false, "title": null,
                            "gridWidth": {"condition": {"test": "datum.value % 25 === 0", "value": 1.6}, "value": 0.8}}},
                        "y": {"field": "y", "type": "quantitative", "scale": {"domain": [-4, 92.5], "nice": false, "zero": false},
                          "axis": {"values": [0, 12.5, 25, 37.5, 50, 62.5, 75, 87.5], "labelExpr": "datum.value % 25 === 0 ? datum.label : ''",
                            "tickOpacity": {"condition": {"test": "datum.value % 25 === 0", "value": 1}, "value": 0},
                            "gridWidth": {"condition": {"test": "datum.value % 25 === 0", "value": 1.6}, "value": 0.8},
                            "title": null}}
                      },
                      "layer": [
                        {"data": {"name": "cht"}, "mark": {"type": "circle", "size": 100, "color": "#000000", "opacity": 0.8}},
                        {"data": {"name": "fit"}, "transform": [{"filter": "datum.p === 'CHT'"}], "mark": {"type": "line", "color": "#FF0000", "strokeWidth": 3.5, "interpolate": "monotone"}},
                        {"data": {"name": "lab"}, "transform": [{"filter": "datum.p === 'CHT'"}], "mark": {"type": "text", "align": "left", "baseline": "middle", "font": "Liberation Sans", "fontSize": 24, "color": "#000000"}, "encoding": {"text": {"field": "t", "type": "nominal"}}}
                      ]
                    }
                  ]
                },
                {
                  "spacing": 0,
                  "vconcat": [
                    {
                      "width": 655, "height": 50,
                      "view": {"fill": "#D9D9D9", "stroke": "#333333", "strokeWidth": 1.5},
                      "data": {"values": [{"t": "Cold Season (CS)"}]},
                      "mark": {"type": "text", "font": "Liberation Sans", "fontSize": 30, "fontWeight": "bold", "color": "#1A1A1A", "baseline": "middle", "dy": 2},
                      "encoding": {"text": {"field": "t", "type": "nominal"}}
                    },
                    {
                      "width": 655, "height": 345,
                      "encoding": {
                        "x": {"field": "x", "type": "quantitative", "scale": {"domain": [8, 108.2], "nice": false, "zero": false},
                          "axis": {"values": [12.5, 25, 37.5, 50, 62.5, 75, 87.5, 100], "labels": false, "ticks": false, "title": null,
                            "gridWidth": {"condition": {"test": "datum.value % 25 === 0", "value": 1.6}, "value": 0.8}}},
                        "y": {"field": "y", "type": "quantitative", "scale": {"domain": [-4, 92.5], "nice": false, "zero": false},
                          "axis": {"values": [0, 12.5, 25, 37.5, 50, 62.5, 75, 87.5], "labels": false, "ticks": false, "title": null,
                            "gridWidth": {"condition": {"test": "datum.value % 25 === 0", "value": 1.6}, "value": 0.8}}}
                      },
                      "layer": [
                        {"data": {"name": "cs"}, "mark": {"type": "circle", "size": 100, "color": "#000000", "opacity": 0.8}},
                        {"data": {"name": "fit"}, "transform": [{"filter": "datum.p === 'CS'"}], "mark": {"type": "line", "color": "#FF0000", "strokeWidth": 3.5, "interpolate": "monotone"}},
                        {"data": {"name": "lab"}, "transform": [{"filter": "datum.p === 'CS'"}], "mark": {"type": "text", "align": "left", "baseline": "middle", "font": "Liberation Sans", "fontSize": 24, "color": "#000000"}, "encoding": {"text": {"field": "t", "type": "nominal"}}}
                      ]
                    }
                  ]
                }
              ]
            },
            {
              "spacing": 18,
              "hconcat": [
                {
                  "spacing": 0,
                  "vconcat": [
                    {
                      "width": 655, "height": 50,
                      "view": {"fill": "#D9D9D9", "stroke": "#333333", "strokeWidth": 1.5},
                      "data": {"values": [{"t": "Hot-Cold Transition (HCT)"}]},
                      "mark": {"type": "text", "font": "Liberation Sans", "fontSize": 30, "fontWeight": "bold", "color": "#1A1A1A", "baseline": "middle", "dy": 2},
                      "encoding": {"text": {"field": "t", "type": "nominal"}}
                    },
                    {
                      "width": 655, "height": 345,
                      "encoding": {
                        "x": {"field": "x", "type": "quantitative", "scale": {"domain": [8, 108.2], "nice": false, "zero": false},
                          "axis": {"values": [12.5, 25, 37.5, 50, 62.5, 75, 87.5, 100], "labelExpr": "datum.value % 25 === 0 ? datum.label : ''",
                            "tickOpacity": {"condition": {"test": "datum.value % 25 === 0", "value": 1}, "value": 0},
                            "gridWidth": {"condition": {"test": "datum.value % 25 === 0", "value": 1.6}, "value": 0.8},
                            "title": null}},
                        "y": {"field": "y", "type": "quantitative", "scale": {"domain": [-4, 92.5], "nice": false, "zero": false},
                          "axis": {"values": [0, 12.5, 25, 37.5, 50, 62.5, 75, 87.5], "labelExpr": "datum.value % 25 === 0 ? datum.label : ''",
                            "tickOpacity": {"condition": {"test": "datum.value % 25 === 0", "value": 1}, "value": 0},
                            "gridWidth": {"condition": {"test": "datum.value % 25 === 0", "value": 1.6}, "value": 0.8},
                            "title": null}}
                      },
                      "layer": [
                        {"data": {"name": "hct"}, "mark": {"type": "circle", "size": 100, "color": "#000000", "opacity": 0.8}},
                        {"data": {"name": "fit"}, "transform": [{"filter": "datum.p === 'HCT'"}], "mark": {"type": "line", "color": "#FF0000", "strokeWidth": 3.5, "interpolate": "monotone"}},
                        {"data": {"name": "lab"}, "transform": [{"filter": "datum.p === 'HCT'"}], "mark": {"type": "text", "align": "left", "baseline": "middle", "font": "Liberation Sans", "fontSize": 24, "color": "#000000"}, "encoding": {"text": {"field": "t", "type": "nominal"}}}
                      ]
                    }
                  ]
                },
                {
                  "spacing": 0,
                  "vconcat": [
                    {
                      "width": 655, "height": 50,
                      "view": {"fill": "#D9D9D9", "stroke": "#333333", "strokeWidth": 1.5},
                      "data": {"values": [{"t": "Hot Season (HS)"}]},
                      "mark": {"type": "text", "font": "Liberation Sans", "fontSize": 30, "fontWeight": "bold", "color": "#1A1A1A", "baseline": "middle", "dy": 2},
                      "encoding": {"text": {"field": "t", "type": "nominal"}}
                    },
                    {
                      "width": 655, "height": 345,
                      "encoding": {
                        "x": {"field": "x", "type": "quantitative", "scale": {"domain": [8, 108.2], "nice": false, "zero": false},
                          "axis": {"values": [12.5, 25, 37.5, 50, 62.5, 75, 87.5, 100], "labelExpr": "datum.value % 25 === 0 ? datum.label : ''",
                            "tickOpacity": {"condition": {"test": "datum.value % 25 === 0", "value": 1}, "value": 0},
                            "gridWidth": {"condition": {"test": "datum.value % 25 === 0", "value": 1.6}, "value": 0.8},
                            "title": null}},
                        "y": {"field": "y", "type": "quantitative", "scale": {"domain": [-4, 92.5], "nice": false, "zero": false},
                          "axis": {"values": [0, 12.5, 25, 37.5, 50, 62.5, 75, 87.5], "labels": false, "ticks": false, "title": null,
                            "gridWidth": {"condition": {"test": "datum.value % 25 === 0", "value": 1.6}, "value": 0.8}}}
                      },
                      "layer": [
                        {"data": {"name": "hs"}, "mark": {"type": "circle", "size": 100, "color": "#000000", "opacity": 0.8}},
                        {"data": {"name": "fit"}, "transform": [{"filter": "datum.p === 'HS'"}], "mark": {"type": "line", "color": "#FF0000", "strokeWidth": 3.5, "interpolate": "monotone"}},
                        {"data": {"name": "lab"}, "transform": [{"filter": "datum.p === 'HS'"}], "mark": {"type": "text", "align": "left", "baseline": "middle", "font": "Liberation Sans", "fontSize": 24, "color": "#000000"}, "encoding": {"text": {"field": "t", "type": "nominal"}}}
                      ]
                    }
                  ]
                }
              ]
            }
          ]
        },
        {
          "width": 1328, "height": 32,
          "view": {"stroke": null},
          "data": {"values": [{"t": "Height (mm)"}]},
          "mark": {"type": "text", "font": "Liberation Sans", "fontSize": 29.5, "fontWeight": "bold", "color": "#000000", "baseline": "middle"},
          "encoding": {"text": {"field": "t", "type": "nominal"}}
        }
      ]
    }
  ]
}
